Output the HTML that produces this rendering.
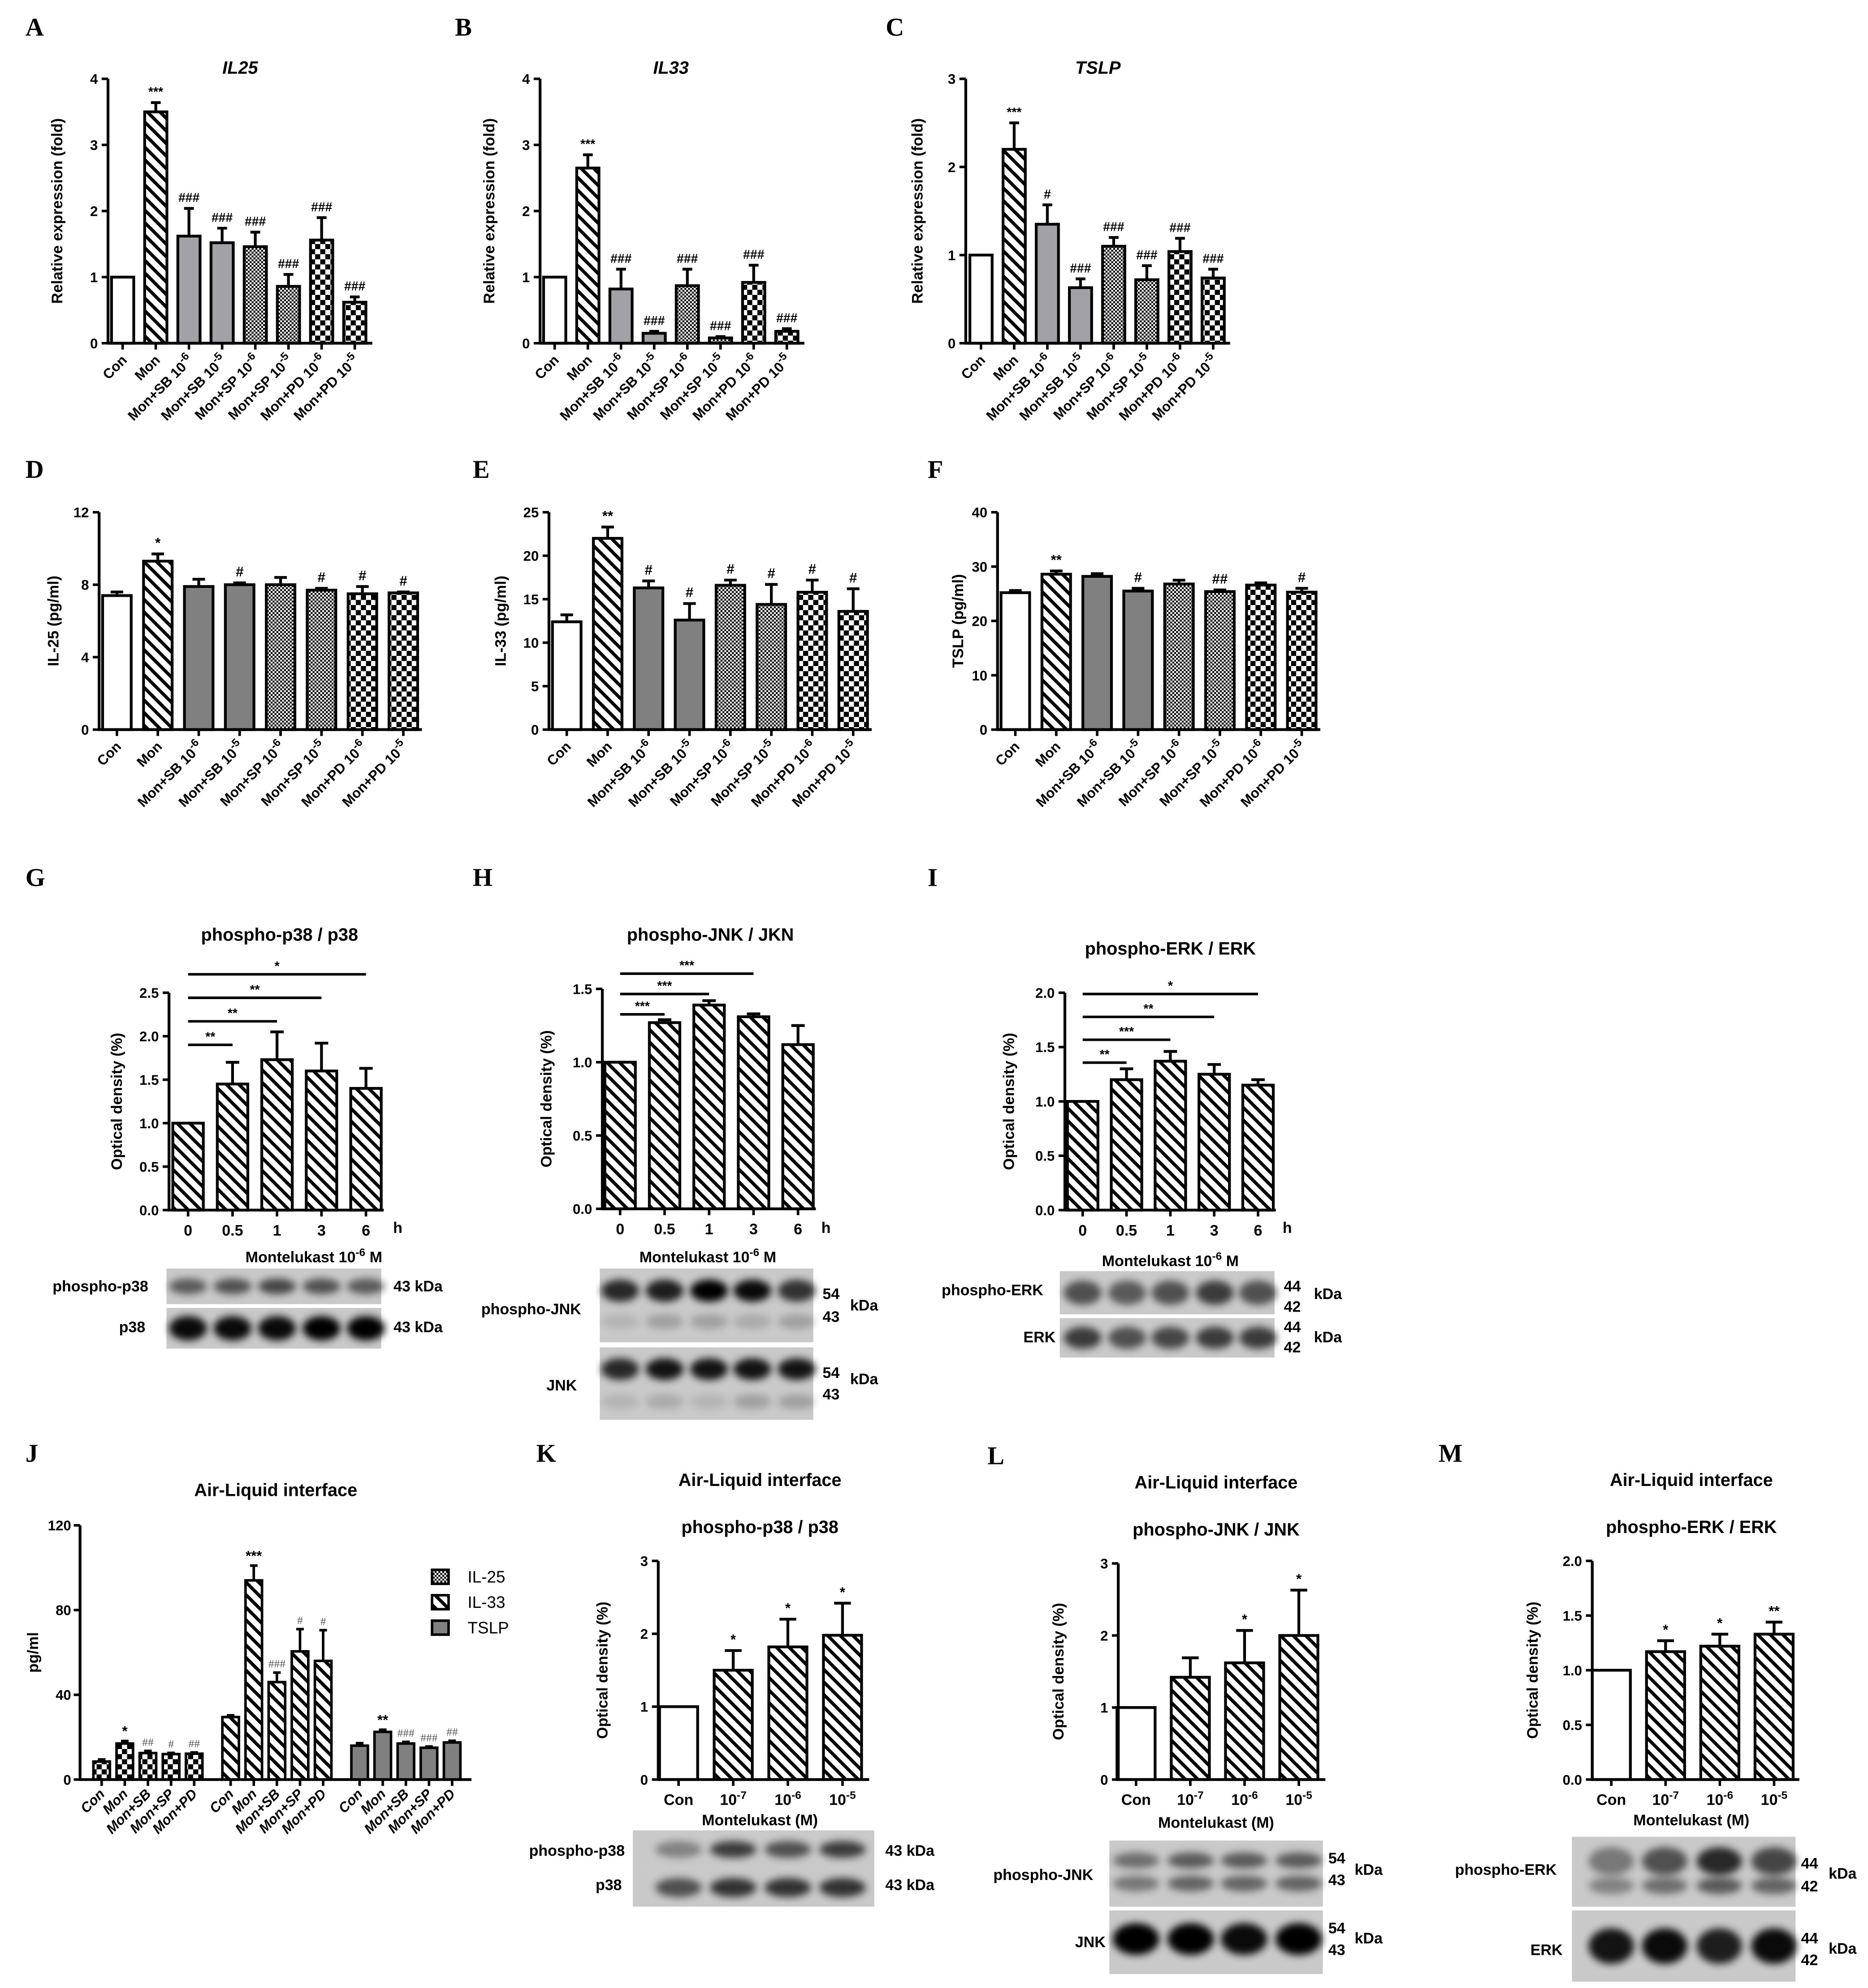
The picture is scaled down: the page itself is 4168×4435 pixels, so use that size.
<!DOCTYPE html>
<html><head><meta charset="utf-8"><style>
html,body{margin:0;padding:0;background:#fff;}
svg{display:block;font-family:"Liberation Sans",Arial,sans-serif;}
</style></head><body>
<svg id="fig" xmlns="http://www.w3.org/2000/svg" width="4168" height="4435" viewBox="0 0 1470 1564" preserveAspectRatio="none">
<defs>
<pattern id="hatch" patternUnits="userSpaceOnUse" width="7" height="7" patternTransform="rotate(45)"><rect width="7" height="7" fill="#fff"/><rect x="0" y="0" width="7" height="2.6" fill="#000"/></pattern>
<pattern id="fine" patternUnits="userSpaceOnUse" width="3" height="3"><rect width="3" height="3" fill="#fff"/><rect width="1.5" height="1.5" fill="#000"/><rect x="1.5" y="1.5" width="1.5" height="1.5" fill="#000"/></pattern>
<pattern id="coarse" patternUnits="userSpaceOnUse" width="8" height="8"><rect width="8" height="8" fill="#fff"/><rect width="4" height="4" fill="#000"/><rect x="4" y="4" width="4" height="4" fill="#000"/></pattern>
<filter id="blur" x="-50%" y="-50%" width="200%" height="200%"><feGaussianBlur stdDeviation="3"/></filter>
</defs>
<g id="root"></g>
</svg>
<script>
// ---------- data ----------
const rtLabels = ["Con","Mon","Mon+SB 10|-6","Mon+SB 10|-5","Mon+SP 10|-6","Mon+SP 10|-5","Mon+PD 10|-6","Mon+PD 10|-5"];
const aVals = [1, 3.5, 1.62, 1.52, 1.46, 0.86, 1.56, 0.62];
const aErrs = [0, 0.14, 0.42, 0.22, 0.22, 0.18, 0.34, 0.08];
const aAnn  = ["", "***", "###", "###", "###", "###", "###", "###"];
const bVals = [1, 2.65, 0.82, 0.15, 0.87, 0.08, 0.92, 0.18];
const bErrs = [0, 0.2, 0.3, 0.03, 0.25, 0.02, 0.26, 0.04];
const bAnn  = ["", "***", "###", "###", "###", "###", "###", "###"];
const cVals = [1, 2.2, 1.35, 0.63, 1.1, 0.72, 1.04, 0.74];
const cErrs = [0, 0.3, 0.22, 0.1, 0.1, 0.16, 0.15, 0.1];
const cAnn  = ["", "***", "#", "###", "###", "###", "###", "###"];
const dVals = [7.4, 9.3, 7.9, 8.0, 8.0, 7.7, 7.5, 7.55];
const dErrs = [0.2, 0.4, 0.4, 0.1, 0.4, 0.1, 0.4, 0.05];
const dAnn  = ["", "*", "", "#", "", "#", "#", "#"];
const eVals = [12.4, 22, 16.3, 12.6, 16.6, 14.4, 15.8, 13.6];
const eErrs = [0.8, 1.3, 0.8, 1.9, 0.6, 2.3, 1.4, 2.6];
const eAnn  = ["", "**", "#", "#", "#", "#", "#", "#"];
const fVals = [25.2, 28.6, 28.2, 25.5, 26.8, 25.4, 26.6, 25.3];
const fErrs = [0.4, 0.6, 0.5, 0.5, 0.7, 0.3, 0.4, 0.7];
const fAnn  = ["", "**", "", "#", "", "##", "", "#"];
const timeLabels = ["0","0.5","1","3","6"];
const gVals = [1, 1.45, 1.73, 1.6, 1.4];
const gErrs = [0, 0.25, 0.32, 0.32, 0.23];
const gSig = [[1,"**"],[2,"**"],[3,"**"],[4,"*"]];
const hVals = [1, 1.27, 1.39, 1.31, 1.12];
const hErrs = [0, 0.02, 0.03, 0.02, 0.13];
const hSig = [[1,"***"],[2,"***"],[3,"***"]];
const iVals = [1, 1.2, 1.37, 1.25, 1.15];
const iErrs = [0, 0.1, 0.09, 0.09, 0.05];
const iSig = [[1,"**"],[2,"***"],[3,"**"],[4,"*"]];
const jLabels = ["Con","Mon","Mon+SB","Mon+SP","Mon+PD"];
const jIL25 = [8.5, 17, 12.5, 12, 12.2];
const jIL25e = [1, 1.2, 1, 0.6, 0.6];
const jIL25ann = ["", "*", "##", "#", "##"];
const jIL33 = [29.5, 94, 46, 60.5, 56];
const jIL33e = [0.8, 7, 4.5, 10.5, 14.5];
const jIL33ann = ["", "***", "###", "#", "#"];
const jTSLP = [16, 22.5, 17, 15, 17.5];
const jTSLPe = [1.2, 1, 0.8, 0.6, 0.8];
const jTSLPann = ["", "**", "###", "###", "##"];
const doseLabels = ["Con","10|-7","10|-6","10|-5"];
const kVals = [1, 1.5, 1.82, 1.98];
const kErrs = [0, 0.27, 0.38, 0.44];
const kAnn = ["", "*", "*", "*"];
const lVals = [1, 1.42, 1.62, 2.0];
const lErrs = [0, 0.27, 0.45, 0.63];
const lAnn = ["", "", "*", "*"];
const mVals = [1, 1.17, 1.22, 1.33];
const mErrs = [0, 0.1, 0.11, 0.11];
const mAnn = ["", "*", "*", "**"];
// ---------- helpers ----------
const NS="http://www.w3.org/2000/svg";
const root=document.getElementById('root');
function el(tag,attrs,parent,txt){const e=document.createElementNS(NS,tag);for(const k in attrs)e.setAttribute(k,attrs[k]);if(txt!==undefined)e.textContent=txt;(parent||root).appendChild(e);return e;}
function supText(t,parent,str,fs){const p=str.split('|');el('tspan',{},t,p[0]);if(p[1]){el('tspan',{dy:-fs*0.4,'font-size':fs*0.72},t,p[1]);}if(p[2]){el('tspan',{dy:fs*0.4},t,p[2]);}}
function letter(x,y,s){const t=el('text',{x:x,y:y,'font-family':'"Liberation Serif",serif','font-weight':'bold','font-size':20},root,s);

}
function txt(x,y,s,o,name){const t=el('text',Object.assign({x:x,y:y,'text-anchor':'middle','font-weight':'bold','font-size':14},o||{}),root);supText(t,t,s,(o&&o['font-size'])||14);

return t;}
function barChart(c){
  const g=el('g',{});
  
  
  const ys=v=>c.yBot-(v/c.ymax)*(c.yBot-c.yTop);
  const xs=i=>c.c0+i*c.step;
  c.vals.forEach((v,i)=>{
    const x=xs(i), y=ys(v), e=c.errs[i];
    if(e>0){const ey=ys(v+e);
      const l=el('path',{d:`M${x} ${y}V${ey}M${x-c.w*0.22} ${ey}H${x+c.w*0.22}`,stroke:'#000','stroke-width':2.2,fill:'none'},g);
      
      }
    const r=el('rect',{x:x-c.w/2,y:y,width:c.w,height:c.yBot-y,fill:c.fills[i],stroke:'#000','stroke-width':2.2},g);
    
    
    if(c.ann&&c.ann[i]){const t=el('text',{x:x,y:ys(v+e)-5,'text-anchor':'middle','font-size':c.annFs||11,'font-weight':'bold',fill:c.annColor||'#000'},g,c.ann[i]);
      
      }
    el('line',{x1:x,x2:x,y1:c.yBot,y2:c.yBot+5,stroke:'#000','stroke-width':2},g);
  });
  const ax=el('path',{d:`M${c.x0} ${c.yTop}V${c.yBot}H${c.xEnd}`,stroke:'#000','stroke-width':2.2,fill:'none'},g);
  
  
  c.ticks.forEach(t=>{const y=ys(t);el('line',{x1:c.x0-5,x2:c.x0,y1:y,y2:y,stroke:'#000','stroke-width':2},g);
    const tl=el('text',{x:c.x0-8,y:y+4,'text-anchor':'end','font-size':11,'font-weight':'bold'},g,c.tickFmt?t.toFixed(1):String(t));
    
    });
  c.labels.forEach((s,i)=>{const x=xs(i);
    let t;
    if(c.rot){t=el('text',{x:x+4,y:c.yBot+14,'text-anchor':'end','font-size':c.lfs||11,'font-weight':'bold','font-style':c.italic?'italic':'normal',transform:`rotate(-45 ${x+4} ${c.yBot+14})`},g);}
    else{t=el('text',{x:x,y:c.yBot+20,'text-anchor':'middle','font-size':12,'font-weight':'bold'},g);}
    supText(t,t,s,c.lfs||12);
    
    });
  if(c.ylab){const yl=el('text',{x:c.ylx,y:(c.yTop+c.yBot)/2,'text-anchor':'middle','font-size':12,'font-weight':'bold',transform:`rotate(-90 ${c.ylx} ${(c.yTop+c.yBot)/2})`},g,c.ylab);
    
    }
  if(c.sig){c.sig.forEach((s,k)=>{const y=c.sigY0-k*c.sigStep;
    const l=el('line',{x1:xs(0),x2:xs(s[0]),y1:y,y2:y,stroke:'#000','stroke-width':2},g);
    
    
    el('text',{x:(xs(0)+xs(s[0]))/2,y:y-3,'text-anchor':'middle','font-size':10,'font-weight':'bold'},g,s[1]);});}
  return {ys,xs};
}
function blot(x,y,w,h,centers,bands,name){
  const g=el('g',{});
  
  
  el('rect',{x:x,y:y,width:w,height:h,fill:'#c9c9c9'},g);
  const bw=(centers.length>1?(centers[1]-centers[0]):30)*0.85;
  bands.forEach(b=>{centers.forEach((cx,i)=>{const op=b.op[i];
    el('ellipse',{cx:cx,cy:y+h*b.pos,rx:bw/2,ry:h*b.ry,fill:'#000',opacity:op,filter:'url(#blur)'},g);});});
}
const F6=['#fff','url(#hatch)','#a2a2a6','#a2a2a6','url(#fine)','url(#fine)','url(#coarse)','url(#coarse)'];
const F6d=['#fff','url(#hatch)','#808080','#808080','url(#fine)','url(#fine)','url(#coarse)','url(#coarse)'];
const H5=['url(#hatch)','url(#hatch)','url(#hatch)','url(#hatch)','url(#hatch)'];
const H4=['#fff','url(#hatch)','url(#hatch)','url(#hatch)'];
// ---------- Row 1 ----------
letter(20,28,'A');letter(358,28,'B');letter(697,28,'C');
txt(189,58,'IL25',{'font-style':'italic'},'chart-title');txt(528,58,'IL33',{'font-style':'italic'},'chart-title');txt(864,58,'TSLP',{'font-style':'italic'},'chart-title');
barChart({name:'chart-a',x0:85,xEnd:293,yTop:62,yBot:270,ymax:4,ticks:[0,1,2,3,4],c0:96.5,step:26.1,w:17.5,vals:aVals,errs:aErrs,fills:F6,ann:aAnn,labels:rtLabels,rot:true,ylab:'Relative expression (fold)',ylx:49,annFs:10});
barChart({name:'chart-b',x0:425,xEnd:633,yTop:62,yBot:270,ymax:4,ticks:[0,1,2,3,4],c0:436.5,step:26.1,w:17.5,vals:bVals,errs:bErrs,fills:F6,ann:bAnn,labels:rtLabels,rot:true,ylab:'Relative expression (fold)',ylx:389,annFs:10});
barChart({name:'chart-c',x0:760,xEnd:968,yTop:62,yBot:270,ymax:3,ticks:[0,1,2,3],c0:772,step:26.1,w:17.5,vals:cVals,errs:cErrs,fills:F6,ann:cAnn,labels:rtLabels,rot:true,ylab:'Relative expression (fold)',ylx:726,annFs:10});
// ---------- Row 2 ----------
letter(20,376,'D');letter(372,376,'E');letter(730,376,'F');
barChart({name:'chart-d',x0:78,xEnd:332,yTop:403,yBot:574,ymax:12,ticks:[0,4,8,12],c0:92,step:32.2,w:22.5,vals:dVals,errs:dErrs,fills:F6d,ann:dAnn,labels:rtLabels,rot:true,ylab:'IL-25 (pg/ml)',ylx:46});
barChart({name:'chart-e',x0:432,xEnd:686,yTop:403,yBot:574,ymax:25,ticks:[0,5,10,15,20,25],c0:446,step:32.2,w:22.5,vals:eVals,errs:eErrs,fills:F6d,ann:eAnn,labels:rtLabels,rot:true,ylab:'IL-33 (pg/ml)',ylx:398});
barChart({name:'chart-f',x0:785,xEnd:1039,yTop:403,yBot:574,ymax:40,ticks:[0,10,20,30,40],c0:799,step:32.2,w:22.5,vals:fVals,errs:fErrs,fills:F6d,ann:fAnn,labels:rtLabels,rot:true,ylab:'TSLP (pg/ml)',ylx:758});
// ---------- Row 3 ----------
letter(20,697,'G');letter(372,697,'H');letter(730,697,'I');
txt(220,740,'phospho-p38 / p38',{},'chart-title');txt(559,740,'phospho-JNK / JKN',{},'chart-title');txt(921,751,'phospho-ERK / ERK',{},'chart-title');
barChart({name:'chart-g',x0:133,xEnd:302,yTop:781,yBot:952,ymax:2.5,ticks:[0,0.5,1,1.5,2,2.5],tickFmt:true,c0:148,step:35,w:24,vals:gVals,errs:gErrs,fills:H5,labels:timeLabels,sig:gSig,sigY0:822,sigStep:18.5,ylab:'Optical density (%)',ylx:96});
txt(313,970,'h',{'font-size':12},'unit-label');txt(247,993,'Montelukast 10|-6| M',{'font-size':12},'x-axis-title');
barChart({name:'chart-h',x0:474,xEnd:642,yTop:778,yBot:951,ymax:1.5,ticks:[0,0.5,1,1.5],tickFmt:true,c0:488,step:35,w:24,vals:hVals,errs:hErrs,fills:H5,labels:timeLabels,sig:hSig,sigY0:798,sigStep:16,ylab:'Optical density (%)',ylx:434});
txt(650,970,'h',{'font-size':12},'unit-label');txt(557,993,'Montelukast 10|-6| M',{'font-size':12},'x-axis-title');
barChart({name:'chart-i',x0:838,xEnd:1004,yTop:781,yBot:952,ymax:2.0,ticks:[0,0.5,1,1.5,2],tickFmt:true,c0:852,step:34.5,w:24,vals:iVals,errs:iErrs,fills:H5,labels:timeLabels,sig:iSig,sigY0:836,sigStep:18,ylab:'Optical density (%)',ylx:798});
txt(1013,970,'h',{'font-size':12},'unit-label');txt(921,996,'Montelukast 10|-6| M',{'font-size':12},'x-axis-title');
const gC=[148,183,218,253,288], hC=[488,523,558,592,627], iC=[852,887,921,956,990];
blot(131,998,169,28,gC,[{pos:0.5,ry:0.22,op:[0.55,0.6,0.65,0.6,0.55]}],'blot-phospho-p38');
blot(131,1029,169,32,gC,[{pos:0.5,ry:0.3,op:[0.95,0.95,0.95,1,1]}],'blot-p38');
blot(472,998,168,58,hC,[{pos:0.3,ry:0.15,op:[0.8,0.85,1,0.95,0.75]},{pos:0.72,ry:0.1,op:[0.1,0.2,0.2,0.15,0.2]}],'blot-phospho-jnk');
blot(472,1060,168,57,hC,[{pos:0.3,ry:0.15,op:[0.8,0.9,0.9,0.9,0.9]},{pos:0.75,ry:0.1,op:[0.1,0.15,0.1,0.2,0.2]}],'blot-jnk');
blot(834,1000,169,34,iC,[{pos:0.5,ry:0.28,op:[0.6,0.55,0.6,0.7,0.6]}],'blot-phospho-erk');
blot(834,1037,169,31,iC,[{pos:0.5,ry:0.28,op:[0.7,0.6,0.65,0.7,0.7]}],'blot-erk');
txt(79,1016,'phospho-p38',{'font-size':12},'blot-label');txt(104,1048,'p38',{'font-size':12},'blot-label');
txt(329,1016,'43 kDa',{'font-size':12},'kda-label');txt(329,1048,'43 kDa',{'font-size':12},'kda-label');
txt(418,1034,'phospho-JNK',{'font-size':12},'blot-label');txt(442,1094,'JNK',{'font-size':12},'blot-label');
txt(654,1022,'54',{'font-size':12},'kda-label');txt(654,1040,'43',{'font-size':12},'kda-label');txt(680,1031,'kDa',{'font-size':12},'kda-label');
txt(654,1084,'54',{'font-size':12},'kda-label');txt(654,1101,'43',{'font-size':12},'kda-label');txt(680,1089,'kDa',{'font-size':12},'kda-label');
txt(781,1019,'phospho-ERK',{'font-size':12},'blot-label');txt(818,1056,'ERK',{'font-size':12},'blot-label');
txt(1017,1016,'44',{'font-size':12},'kda-label');txt(1017,1032,'42',{'font-size':12},'kda-label');txt(1045,1022,'kDa',{'font-size':12},'kda-label');
txt(1017,1048,'44',{'font-size':12},'kda-label');txt(1017,1064,'42',{'font-size':12},'kda-label');txt(1045,1056,'kDa',{'font-size':12},'kda-label');
// ---------- Row 4 ----------
letter(20,1150,'J');letter(422,1150,'K');letter(777,1152,'L');letter(1132,1150,'M');
txt(217,1177,'Air-Liquid interface',{'font-size':14},'chart-title');
const jG=el('g',{});


const jyTop=1200,jyBot=1400,jmax=120;
const jy=v=>jyBot-v/jmax*(jyBot-jyTop);
function jGroup(c0,vals,errs,ann,fill,name){
  vals.forEach((v,i)=>{const x=c0+i*18.2,w=13,y=jy(v),e=errs[i];
    if(e>0){const ey=jy(v+e);el('path',{d:`M${x} ${y}V${ey}M${x-3} ${ey}H${x+3}`,stroke:'#000','stroke-width':2,fill:'none'},jG);}
    const r=el('rect',{x:x-w/2,y:y,width:w,height:jyBot-y,fill:fill,stroke:'#000','stroke-width':2},jG);
    
    
    if(ann[i]){el('text',{x:x,y:jy(v+e)-4,'text-anchor':'middle','font-size':ann[i][0]=='#'?9:11,'font-weight':ann[i][0]=='#'?'normal':'bold','font-family':ann[i][0]=='#'?'"Liberation Serif",serif':'inherit',fill:ann[i][0]=='#'?'#555':'#000'},jG,ann[i]);}
    el('line',{x1:x,x2:x,y1:jyBot,y2:jyBot+5,stroke:'#000','stroke-width':2},jG);
    const t=el('text',{x:x+3,y:jyBot+12,'text-anchor':'end','font-size':11,'font-weight':'bold','font-style':'italic',transform:`rotate(-45 ${x+3} ${jyBot+12})`},jG,jLabels[i]);
    
    
  });
}
jGroup(80,jIL25,jIL25e,jIL25ann,'url(#coarse)','il25');
jGroup(181.5,jIL33,jIL33e,jIL33ann,'url(#hatch)','il33');
jGroup(283,jTSLP,jTSLPe,jTSLPann,'#808080','tslp');
el('path',{d:`M63 ${jyTop}V${jyBot}H371`,stroke:'#000','stroke-width':2.2,fill:'none'},jG);
[0,40,80,120].forEach(t=>{const y=jy(t);el('line',{x1:58,x2:63,y1:y,y2:y,stroke:'#000','stroke-width':2},jG);el('text',{x:56,y:y+4,'text-anchor':'end','font-size':11,'font-weight':'bold'},jG,t);});
el('text',{x:30,y:1300,'text-anchor':'middle','font-size':12,'font-weight':'bold',transform:'rotate(-90 30 1300)'},jG,'pg/ml');
[['IL-25','url(#fine)'],['IL-33','url(#hatch)'],['TSLP','#808080']].forEach((L,k)=>{const y=1235+k*20;
  const r=el('rect',{x:340,y:y,width:13,height:11,fill:L[1],stroke:'#000','stroke-width':2},jG);
  
  
  el('text',{x:368,y:y+10,'font-size':13},jG,L[0]);});
// K L M
txt(598,1169,'Air-Liquid interface',{'font-size':14},'chart-title');txt(598,1206,'phospho-p38 / p38',{'font-size':14},'chart-title');
txt(957,1171,'Air-Liquid interface',{'font-size':14},'chart-title');txt(957,1208,'phospho-JNK / JNK',{'font-size':14},'chart-title');
txt(1331,1169,'Air-Liquid interface',{'font-size':14},'chart-title');txt(1331,1206,'phospho-ERK / ERK',{'font-size':14},'chart-title');
barChart({name:'chart-k',x0:518,xEnd:684,yTop:1228,yBot:1400,ymax:3,ticks:[0,1,2,3],c0:534,step:43,w:30,vals:kVals,errs:kErrs,fills:H4,ann:kAnn,labels:doseLabels,ylab:'Optical density (%)',ylx:478});
txt(598,1436,'Montelukast (M)',{'font-size':12},'x-axis-title');
barChart({name:'chart-l',x0:880,xEnd:1043,yTop:1230,yBot:1400,ymax:3,ticks:[0,1,2,3],c0:894,step:42.7,w:30,vals:lVals,errs:lErrs,fills:H4,ann:lAnn,labels:doseLabels,ylab:'Optical density (%)',ylx:837});
txt(957,1438,'Montelukast (M)',{'font-size':12},'x-axis-title');
barChart({name:'chart-m',x0:1253,xEnd:1416,yTop:1228,yBot:1400,ymax:2.0,ticks:[0,0.5,1,1.5,2],tickFmt:true,c0:1268,step:42.7,w:30,vals:mVals,errs:mErrs,fills:H4,ann:mAnn,labels:doseLabels,ylab:'Optical density (%)',ylx:1210});
txt(1331,1436,'Montelukast (M)',{'font-size':12},'x-axis-title');
const kC=[534,577,620,663],lC=[894,937,979,1022],mC=[1268,1310,1353,1396];
blot(498,1440,190,30,kC,[{pos:0.5,ry:0.22,op:[0.35,0.7,0.6,0.7]}],'blot-k-phospho-p38');
blot(498,1470,190,30,kC,[{pos:0.5,ry:0.25,op:[0.6,0.75,0.75,0.75]}],'blot-k-p38');
blot(873,1448,168,52,lC,[{pos:0.3,ry:0.12,op:[0.45,0.55,0.55,0.55]},{pos:0.65,ry:0.12,op:[0.4,0.5,0.5,0.5]}],'blot-l-phospho-jnk');
blot(873,1503,168,50,lC,[{pos:0.45,ry:0.25,op:[1,1,0.95,1]}],'blot-l-jnk');
blot(1237,1445,176,55,mC,[{pos:0.35,ry:0.2,op:[0.4,0.6,0.8,0.65]},{pos:0.7,ry:0.12,op:[0.35,0.45,0.55,0.5]}],'blot-m-phospho-erk');
blot(1237,1503,176,56,mC,[{pos:0.5,ry:0.25,op:[0.9,0.95,0.85,0.95]}],'blot-m-erk');
txt(454,1460,'phospho-p38',{'font-size':12},'blot-label');txt(479,1487,'p38',{'font-size':12},'blot-label');
txt(716,1460,'43 kDa',{'font-size':12},'kda-label');txt(716,1487,'43 kDa',{'font-size':12},'kda-label');
txt(821,1479,'phospho-JNK',{'font-size':12},'blot-label');txt(858,1532,'JNK',{'font-size':12},'blot-label');
txt(1052,1466,'54',{'font-size':12},'kda-label');txt(1052,1483,'43',{'font-size':12},'kda-label');txt(1077,1475,'kDa',{'font-size':12},'kda-label');
txt(1052,1521,'54',{'font-size':12},'kda-label');txt(1052,1538,'43',{'font-size':12},'kda-label');txt(1077,1529,'kDa',{'font-size':12},'kda-label');
txt(1185,1475,'phospho-ERK',{'font-size':12},'blot-label');txt(1217,1538,'ERK',{'font-size':12},'blot-label');
txt(1424,1470,'44',{'font-size':12},'kda-label');txt(1424,1488,'42',{'font-size':12},'kda-label');txt(1450,1478,'kDa',{'font-size':12},'kda-label');
txt(1424,1529,'44',{'font-size':12},'kda-label');txt(1424,1546,'42',{'font-size':12},'kda-label');txt(1450,1537,'kDa',{'font-size':12},'kda-label');
</script>
</body></html>
